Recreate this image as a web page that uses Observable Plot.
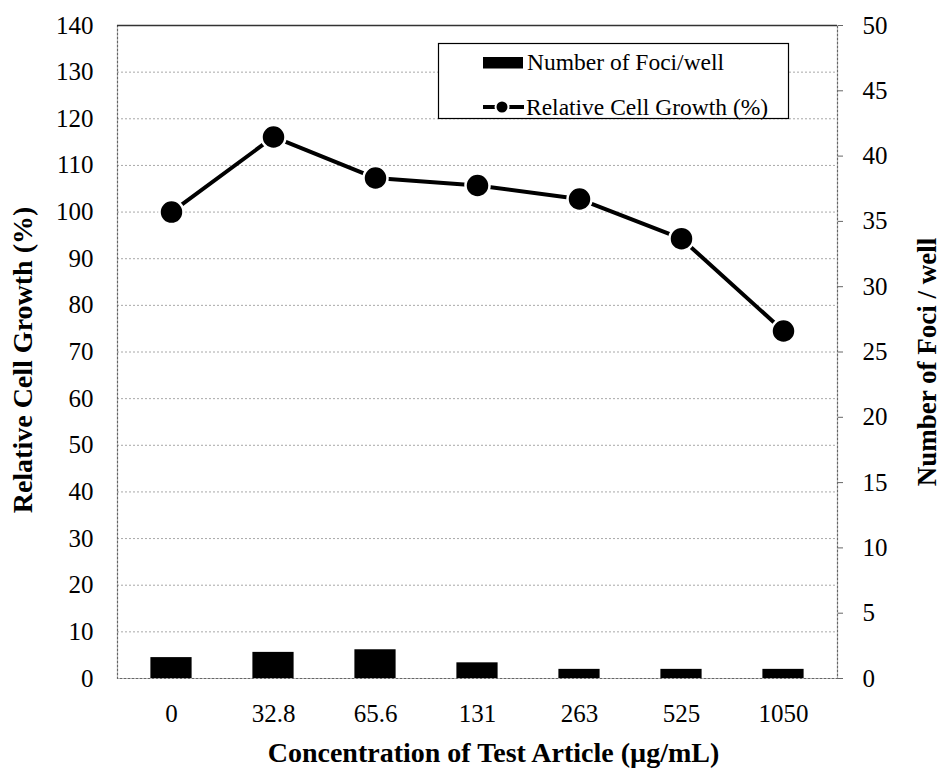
<!DOCTYPE html>
<html>
<head>
<meta charset="utf-8">
<script src="https://cdn.jsdelivr.net/npm/d3@7"></script>
<script src="https://cdn.jsdelivr.net/npm/@observablehq/plot@0.6"></script>
<style>
  html, body { margin: 0; padding: 0; background: #fff; }
  #wrap { position: relative; width: 942px; height: 776px; font-family: "Liberation Serif", "Times New Roman", serif; }
  #wrap svg, #wrap svg text { font-family: "Liberation Serif", "Times New Roman", serif !important; }
  #legend { position: absolute; left: 0; top: 0; pointer-events: none; }
</style>
</head>
<body>
<div id="wrap"></div>
<script>
// ---- data ----
const categories = ["0", "32.8", "65.6", "131", "263", "525", "1050"];
const growth = [100, 116.1, 107.3, 105.7, 102.8, 94.3, 74.5];   // Relative Cell Growth (%) — left axis
const foci = [1.6, 2.0, 2.2, 1.2, 0.7, 0.7, 0.7];               // Number of Foci / well — right axis
const leftTicks = [0, 10, 20, 30, 40, 50, 60, 70, 80, 90, 100, 110, 120, 130, 140];
const rightTicks = [0, 5, 10, 15, 20, 25, 30, 35, 40, 45, 50];
const leftMax = 140, rightMax = 50;
const ratio = leftMax / rightMax;

const rows = categories.map((c, i) => ({conc: c, growth: growth[i], foci: foci[i]}));

const font = "'Liberation Serif', 'Times New Roman', serif";

const chart = Plot.plot({
  width: 942,
  height: 776,
  marginLeft: 117,
  marginRight: 105,
  marginTop: 25,
  marginBottom: 98,
  style: {fontFamily: font, fontSize: "25px", color: "#000", background: "#fff"},
  x: {type: "band", domain: categories, padding: 0},
  y: {domain: [0, leftMax]},
  marks: [
    Plot.ruleY(leftTicks.slice(1, -1), {stroke: "#a8a8a8", strokeWidth: 1, strokeDasharray: "2,2"}),
    Plot.frame({stroke: "#666", strokeWidth: 1.2, strokeDasharray: "3,1"}),
    Plot.ruleY([leftMax], {stroke: "#333", strokeWidth: 1.5}),
    Plot.barY(rows, {x: "conc", y: d => d.foci * ratio, fill: "#000", insetLeft: 30.4, insetRight: 30.4}),
    Plot.line(rows, {x: "conc", y: "growth", stroke: "#000", strokeWidth: 4}),
    Plot.dot(rows, {x: "conc", y: "growth", r: 12, fill: "#000", stroke: "#fff", strokeWidth: 2.5}),
    Plot.axisY(leftTicks, {anchor: "left", tickSize: 0, tickPadding: 24, fontSize: 25, label: null}),
    Plot.axisY(rightTicks.map(v => v * ratio), {anchor: "right", tickSize: 5, tickPadding: 20, fontSize: 25, label: null,
      stroke: "#666", tickFormat: d => String(Math.round(d / ratio))}),
    Plot.axisX({tickSize: 0, tickPadding: 26, fontSize: 25, label: null}),
    Plot.text(["Relative Cell Growth (%)"], {frameAnchor: "left", dx: -94, dy: 8, rotate: -90, fontSize: 28, fontWeight: "bold", lineAnchor: "middle", textAnchor: "middle"}),
    Plot.text(["Number of Foci / well"], {frameAnchor: "right", dx: 90, dy: 10, rotate: -90, fontSize: 27, fontWeight: "bold", lineAnchor: "middle", textAnchor: "middle"}),
    Plot.text(["Concentration of Test Article (µg/mL)"], {frameAnchor: "bottom", dx: 16, dy: 75, fontSize: 28, fontWeight: "bold", lineAnchor: "middle", textAnchor: "middle"})
  ]
});

const wrap = document.getElementById("wrap");
wrap.appendChild(chart);

// ---- legend overlay ----
const ns = "http://www.w3.org/2000/svg";
const lg = document.createElementNS(ns, "svg");
lg.setAttribute("id", "legend");
lg.setAttribute("width", 942);
lg.setAttribute("height", 776);
lg.innerHTML = `
  <rect x="438.5" y="43.5" width="350" height="75" fill="#fff" stroke="#000" stroke-width="1.2"/>
  <rect x="483" y="57" width="40" height="11.5" fill="#000"/>
  <text x="527" y="70" font-size="23.5" fill="#000">Number of Foci/well</text>
  <line x1="483" x2="524" y1="107" y2="107" stroke="#000" stroke-width="4"/>
  <circle cx="502" cy="107" r="6.5" fill="#000" stroke="#fff" stroke-width="2"/>
  <text x="526" y="115" font-size="23.5" fill="#000">Relative Cell Growth (%)</text>
`;
wrap.appendChild(lg);
</script>
</body>
</html>
